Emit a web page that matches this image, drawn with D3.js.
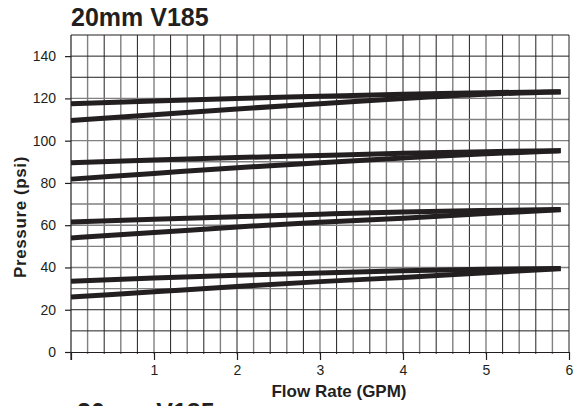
<!DOCTYPE html>
<meta charset="utf-8">
<html>
<script src="https://d3js.org/d3.v7.min.js"></script>
<style>
  body { margin: 0; background: #fff; }
  text { font-family: "Liberation Sans", Arial, sans-serif; fill: #231f20; }
</style>
<body>
<div id="my_dataviz"></div>
<script>

    // data: flow (GPM) vs pressure (psi), four pairs of curves
    const flow = [0, 1, 2, 3, 4, 5, 5.9]
    const upper1 = [117.5, 118.8, 120, 121, 122, 122.7, 123.2]
    const lower1 = [109.5, 112.3, 115, 117.5, 120, 122, 123]
    const upper2 = [89.5, 90.8, 92, 93, 94, 94.8, 95.3]
    const lower2 = [81.8, 84.5, 87.2, 89.6, 91.8, 93.8, 95.2]
    const upper3 = [61.5, 62.8, 64, 65.2, 66.3, 67, 67.4]
    const lower3 = [54, 56.5, 59.2, 61.4, 63.3, 65.5, 67.3]
    const upper4 = [33.5, 35, 36.3, 37.4, 38.4, 39.1, 39.5]
    const lower4 = [26, 28.5, 31, 33.3, 35.3, 37.5, 39.4]
    const xTicks = [1, 2, 3, 4, 5, 6]
    const yTicks = [0, 20, 40, 60, 80, 100, 120, 140]

    const series = [upper1, lower1, upper2, lower2, upper3, lower3, upper4, lower4]

    // dimensions
    const width = 574,
        height = 406,
        margin = {top: 35, right: 5, bottom: 54, left: 71};

    const svg = d3.select("#my_dataviz")
      .append("svg")
        .attr("width", width)
        .attr("height", height)

    const x = d3.scaleLinear().domain([0, 6]).range([margin.left, width - margin.right])
    const y = d3.scaleLinear().domain([0, 150]).range([height - margin.bottom, margin.top])

    // vertical grid every 0.2 GPM, alternating dark and grey
    const vGrid = d3.range(1, 30).map(i => i / 5)
    svg.selectAll('vgrid')
      .data(vGrid)
      .join('line')
        .attr('x1', d => x(d)).attr('x2', d => x(d))
        .attr('y1', y(150)).attr('y2', y(0) + 2)
        .attr('stroke', (d, i) => i % 2 == 1 ? '#231f20' : '#808080')
        .attr('stroke-width', (d, i) => i % 2 == 1 ? 1 : 1.4)

    // horizontal grid every 10 psi
    const darkRows = [10, 20, 80, 130, 140]
    svg.selectAll('hgrid')
      .data(d3.range(10, 151, 10))
      .join('line')
        .attr('x1', x(0)).attr('x2', x(6))
        .attr('y1', d => y(d)).attr('y2', d => y(d))
        .attr('stroke', d => darkRows.includes(d) || d == 150 ? '#231f20' : '#808080')
        .attr('stroke-width', d => darkRows.includes(d) || d == 150 ? 1 : 1.4)

    // right border
    svg.append('line')
      .attr('x1', x(6)).attr('x2', x(6))
      .attr('y1', y(150)).attr('y2', y(0))
      .attr('stroke', '#231f20')

    // axes
    const yAxis = svg.append('g')
      .attr('transform', `translate(${margin.left},0)`)
      .call(d3.axisLeft(y).tickValues(yTicks).tickSize(6).tickPadding(9).tickSizeOuter(0))
    const xAxis = svg.append('g')
      .attr('transform', `translate(0,${y(0)})`)
      .call(d3.axisBottom(x).tickValues([0].concat(xTicks)).tickFormat(d => d == 0 ? '' : d).tickSize(8).tickPadding(5).tickSizeOuter(0))

    svg.selectAll('.domain').attr('stroke', '#231f20').attr('stroke-width', 1.2)
    svg.selectAll('.tick line').attr('stroke', '#231f20').attr('stroke-width', 1.2)
    svg.selectAll('.tick text')
      .style('font-size', '14px')
      .style('font-family', '"Liberation Sans", Arial, sans-serif')
      .attr('fill', '#231f20')

    // y spine runs from the top down past the axis
    yAxis.select('.domain').attr('d', `M0,${y(150)}V${y(0) + 8}`)

    // curves
    const line = d3.line()
      .x((d, i) => x(flow[i]))
      .y(d => y(d))
      .curve(d3.curveMonotoneX)

    svg.selectAll('curves')
      .data(series)
      .join('path')
        .attr('d', line)
        .attr('fill', 'none')
        .attr('stroke', '#231f20')
        .attr('stroke-width', 5)

    // titles
    svg.append('text')
      .attr('x', 71).attr('y', 26)
      .style('font-size', '25px').style('font-weight', 'bold')
      .text('20mm V185')

    svg.append('text')
      .attr('x', 339).attr('y', 397)
      .attr('text-anchor', 'middle')
      .style('font-size', '17px').style('font-weight', 'bold')
      .text('Flow Rate (GPM)')

    svg.append('text')
      .attr('transform', 'translate(26,217) rotate(-90)')
      .attr('text-anchor', 'middle')
      .style('font-size', '17px').style('font-weight', 'bold')
      .style('letter-spacing', '0.6px')
      .text('Pressure (psi)')

    // next chart's title, cut off by the page edge
    svg.append('text')
      .attr('x', 77).attr('y', 421)
      .style('font-size', '25px').style('font-weight', 'bold')
      .text('20mm V185')

</script>
</body>
</html>
